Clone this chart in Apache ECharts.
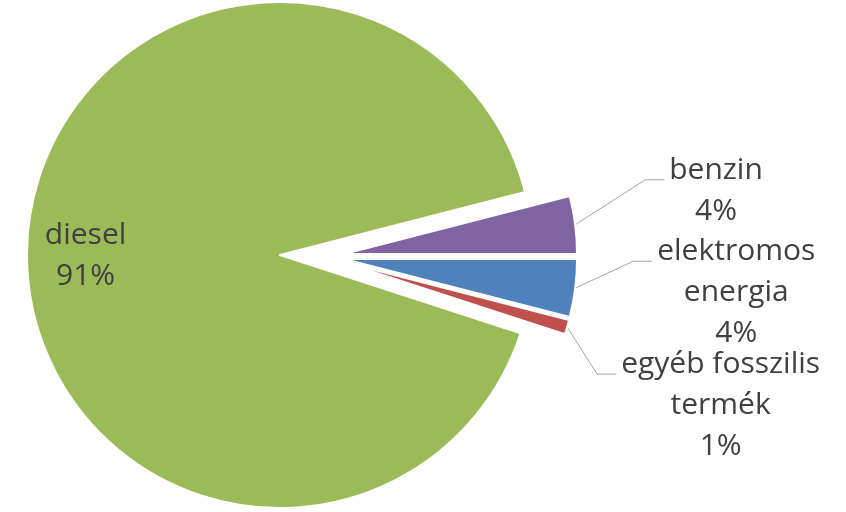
<!DOCTYPE html>
<html>
<head>
<meta charset="utf-8">
<script src="https://cdn.jsdelivr.net/npm/echarts@6/dist/echarts.min.js"></script>
<style>
  html, body { margin: 0; padding: 0; background: #fff; }
  #chart { width: 846px; height: 512px; }
</style>
</head>
<body>
<div id="chart"></div>
<script>
// fuel types, in clockwise order starting just above 3 o'clock
const categories = ["benzin", "elektromos\nenergia", "egyéb fosszilis\ntermék", "diesel"];
const shares = [4, 4, 1, 91];
const colors = ["#8064A2", "#4F81BD", "#C0504D", "#9BBB59"];
const exploded = [true, true, true, false];

const startAngle = 14.4;
const explodeDistance = 20;

// leader line bend for each exploded slice (dx, dy from the slice edge)
const leaderBends = [[70, -45], [58, -27], [30, 47]];

const textStyle = {
  fontFamily: "Open Sans",
  fontSize: 30,
  lineHeight: 41,
  color: "#404040",
};

function formatLabel(params) {
  return params.name + "\n" + Math.round(params.percent) + "%";
}

const total = shares.reduce((a, b) => a + b, 0);
let cumulative = 0;
const midAngles = shares.map((v) => {
  const mid = startAngle - ((cumulative + v / 2) / total) * 360;
  cumulative += v;
  return mid;
});

// one series per visible slice, so every exploded slice keeps its own centre
function sliceData(visibleIndex) {
  return categories.map((name, i) => {
    const visible = i === visibleIndex;
    return {
      name: name,
      value: shares[i],
      itemStyle: visible
        ? { color: colors[i], borderColor: "#fff", borderWidth: 2 }
        : { color: "transparent", borderWidth: 0 },
      label: { show: visible },
      labelLine: { show: visible && exploded[i] },
    };
  });
}

const chart = echarts.init(document.getElementById("chart"), null, { renderer: "canvas" });

const series = [];

const dieselIndex = categories.indexOf("diesel");
series.push({
  type: "pie",
  center: [280, 255],
  radius: 253,
  startAngle: startAngle,
  silent: true,
  avoidLabelOverlap: false,
  emphasis: { disabled: true },
  label: Object.assign({ position: "inside", formatter: formatLabel }, textStyle),
  labelLine: { show: false },
  labelLayout: function () {
    return { dx: -65, dy: 5 };
  },
  data: sliceData(dieselIndex),
});

categories.forEach((name, i) => {
  if (!exploded[i]) {
    return;
  }
  const rad = (midAngles[i] * Math.PI) / 180;
  series.push({
    type: "pie",
    center: [324.2 + explodeDistance * Math.cos(rad), 256.5 - explodeDistance * Math.sin(rad)],
    radius: 233,
    startAngle: startAngle,
    silent: true,
    avoidLabelOverlap: false,
    emphasis: { disabled: true },
    label: Object.assign({ position: "outside", formatter: formatLabel }, textStyle),
    labelLine: { show: true, length: 20, length2: 20, lineStyle: { color: "#A6A6A6", width: 1 } },
    labelLayout: function (params) {
      const pts = params.labelLinePoints;
      const bend = leaderBends[params.dataIndex];
      if (!pts || !bend) {
        return {};
      }
      const start = pts[0];
      const knee = [start[0] + bend[0], start[1] + bend[1]];
      const end = [knee[0] + 19, knee[1]];
      return {
        x: end[0] + 5 + params.labelRect.width / 2,
        y: end[1] - 30,
        align: "center",
        verticalAlign: "top",
        labelLinePoints: [start, knee, end],
      };
    },
    data: sliceData(i),
  });
});

chart.setOption({
  backgroundColor: "#fff",
  animation: false,
  series: series,
});
</script>
</body>
</html>
